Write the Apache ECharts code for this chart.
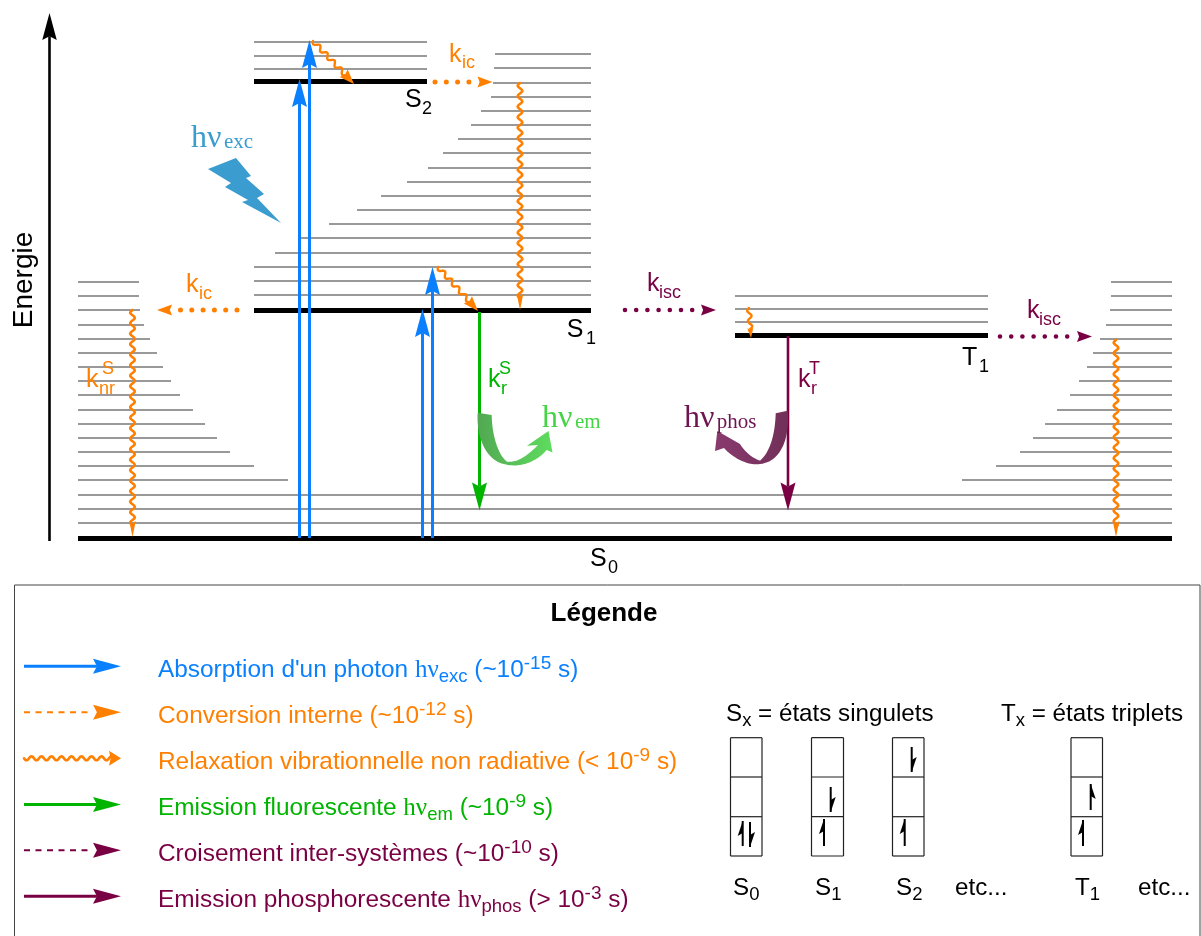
<!DOCTYPE html>
<html><head><meta charset="utf-8">
<style>html,body{margin:0;padding:0;background:#fff}#c{width:1201px;height:936px}</style>
<script src="https://cdn.jsdelivr.net/npm/echarts@6/dist/echarts.min.js"></script>
</head><body><div id="c"></div>
<script>
// ---- energy levels (axis units = reference pixels, y grows downward) ----
const s0Y = [282,296,310,325,339,353,367,381,395,410,424,438,452,466,480];
const s0LeftEnd = [139,139,140,144,150,157,163,171,180,193,205,217,230,254,288];
const s0RightStart = [1111,1111,1110,1106,1100,1093,1087,1079,1070,1057,1045,1033,1020,996,962];
const s0SharedY = [495,509,523];
const s0Ground = [78,1172,538.5];
const s1Y = [54,68,83,97,111,125,139,153,168,182,196,210,224,238,253,267,281,295];
const s1Start = [495,494,493,491,481,471,458,443,428,407,381,357,329,300,275,254,254,254];
const s1End = 591;
const s1Ground = [254,591,310.5];
const s2Y = [42,56,69];
const s2Span = [254,427];
const s2Ground = [254,427,81.5];
const t1Y = [296,309,322];
const t1Span = [735,988];
const t1Ground = [735,988,335.5];
const energyAxis = [[49.5,541,49.5,13]];
// ---- transitions [x1,y1,x2,y2] ----
const absorption = [[299.5,538,299.5,79],[309.5,538,309.5,40],[422.5,538,422.5,309],[432.5,538,432.5,267]];
const conversionOrange = [[435,82,492.5,82],[237,310,157,310]];
const crossingPurple = [[625,310,716,310],[1000,336.5,1092,336.5]];
const relaxLong = [[520,83,520,310],[132.5,310,132.5,537],[1116,340,1116,537]];
const relaxDiag = [[313,41,354,84],[438,267,478,311]];
const relaxShort = [[749,308,751,338]];
const fluorescence = [[479.5,312,479.5,510.5]];
const phosphorescence = [[788,336,788,510.5]];
// ---- legend ----
const legendY = [666.3,712.3,758.3,804.5,850.3,896.3];
const legendX = [24,121];
const legendTexts = [
 "Absorption d'un photon {nu|hν}{s|exc} (~10{sup|-15} s)",
 "Conversion interne (~10{sup|-12} s)",
 "Relaxation vibrationnelle non radiative (< 10{sup|-9} s)",
 "Emission fluorescente {nu|hν}{s|em} (~10{sup|-9} s)",
 "Croisement inter-systèmes (~10{sup|-10} s)",
 "Emission phosphorescente {nu|hν}{s|phos} (> 10{sup|-3} s)"];
const legendBaseline = [676.7,722.7,768.7,815,860.7,906.7];
const orbitalX = [[730.5,762],[811.5,843.5],[892.5,924],[1071,1102.5]];
const orbitalY = [737.7,777,816.7,856];
// spin arrows [x, tailY, tipY, barb side]
const spins = [[742.7,846,821,-1],[750,822,847,1],[824,846,819,-1],[830.7,787,812,1],[904.7,846,819,-1],[911.7,747,772,1],[1083,846,820,-1],[1090.7,810,784,1]];
// ---- texts: [text, x, baseline, style] ----
const O='#ff8000',P='#7a0044',G='#00b400',B='#0a80ff';
const pieces = [
 ['k',449,64,'kO'],['ic',462,69.5,'sO'],
 ['k',186,294,'kO'],['ic',199,300,'sO'],
 ['k',86,389,'kO'],['nr',99,395,'sO'],['S',102,375,'sO'],
 ['S',405,108.7,'kK'],['2',422,115,'sK'],
 ['S',566.7,339,'kK'],['1',586,345,'sK'],
 ['S',590,568,'kK'],['0',608,574,'sK'],
 ['T',962,367,'kK'],['1',979,373,'sK'],
 ['k',488,389,'kG'],['r',501,395,'sG'],['S',499,375,'sG'],
 ['k',647,293,'kP'],['isc',659,299,'sP'],
 ['k',1027,320,'kP'],['isc',1039,326,'sP'],
 ['k',798,389,'kP'],['r',811,395,'sP'],['T',809,375,'sP'],
 ['hν',191,145,'nuB'],['exc',224,147,'nuSB'],
 ['hν',542,425,'nuG'],['em',575,427,'nuSG'],
 ['hν',684,425,'nuP'],['phos',716.7,427,'nuSP']
];
const orbitalTexts = [
 ["S{s|x} = états singulets",726,720.7],["T{s|x} = états triplets",1001,720.7],
 ["S{s|0}",733,895],["S{s|1}",815,895],["S{s|2}",896,895],["etc...",955,895],["T{s|1}",1075,895],["etc...",1138,895]
];
// ---- filled shapes ----
const lightning = [[208,169],[236,158],[251,176],[246,178],[264,194],[257,198],[281,223],[242,202],[248,200],[225,187],[231,183]];
const emCurve = [
 ['M',477.7,412.7],['L',491.7,415],['C',492,435,498,455,507,461.7],['C',518,463,528,455,538,445],
 ['L',527,445.7],['L',548.5,431],['L',552.5,452.5],['L',546.7,450],['C',537,461,522,468,506,464.5],['C',488,462,476,440,477.7,412.7]];
const phosCurve = [
 ['M',787.7,410.7],['L',775.7,413.3],['C',775,435,770,452,760,460.7],['C',752,458,745,452,740,444],
 ['L',717.3,431],['L',715,451],['L',724,448],['C',733,458,748,466,760,464],['C',780,462,790,440,787.7,410.7]];

const FS='"Liberation Sans"',FT='"Liberation Serif"';
const TS={
 kO:[25,O,FS],sO:[18,O,FS],kK:[25,'#000',FS],sK:[18,'#000',FS],kG:[25,G,FS],sG:[18,G,FS],kP:[25,P,FS],sP:[18,P,FS],
 nuB:[32,'#3a9ccf',FT],nuSB:[21,'#3a9ccf',FT],nuG:[32,'#45d445',FT],nuSG:[21,'#45d445',FT],nuP:[32,'#6e1450',FT],nuSP:[21,'#6e1450',FT]
};

function base(name,data,render,z){return {type:'custom',name,coordinateSystem:'cartesian2d',data,silent:true,clip:false,animation:false,z:z||2,
 encode:{x:0,y:1},renderItem:render};}
function segs(name,data,color,lw){
 return base(name,data,(p,api)=>{const a=api.coord([api.value(0),api.value(1)]),b=api.coord([api.value(2),api.value(3)]);
  return {type:'line',shape:{x1:a[0],y1:a[1],x2:b[0],y2:b[1]},style:{stroke:color,lineWidth:lw,fill:null}};});
}
function head(a,b,L,W,color){
 const d=Math.hypot(b[0]-a[0],b[1]-a[1]),ux=(b[0]-a[0])/d,uy=(b[1]-a[1])/d,nx=-uy,ny=ux;
 const bx=b[0]-ux*L,by=b[1]-uy*L,mx=b[0]-ux*L*.86,my=b[1]-uy*L*.86;
 return {type:'polygon',shape:{points:[b,[bx+nx*W/2,by+ny*W/2],[mx,my],[bx-nx*W/2,by-ny*W/2]]},style:{fill:color}};
}
function arrows(name,data,o){
 return base(name,data,(p,api)=>{const a=api.coord([api.value(0),api.value(1)]),b=api.coord([api.value(2),api.value(3)]);
  const d=Math.hypot(b[0]-a[0],b[1]-a[1]),ux=(b[0]-a[0])/d,uy=(b[1]-a[1])/d,back=o.gap!=null?o.L+o.gap:o.L*.86;
  const end=[b[0]-ux*back,b[1]-uy*back];
  const st={stroke:o.color,lineWidth:o.lw,fill:null};
  if(o.dash){st.lineDash=o.dash;st.lineCap=o.cap||'butt';}
  return {type:'group',children:[{type:'line',shape:{x1:a[0],y1:a[1],x2:end[0],y2:end[1]},style:st},head(a,b,o.L,o.W,o.color)]};
 },o.z||3);
}
function waves(name,data,o){
 return base(name,data,(p,api)=>{const a=api.coord([api.value(0),api.value(1)]),b=api.coord([api.value(2),api.value(3)]);
  const d=Math.hypot(b[0]-a[0],b[1]-a[1]),ux=(b[0]-a[0])/d,uy=(b[1]-a[1])/d,nx=-uy,ny=ux,pts=[],n=d-o.L*.7,step=o.period/8;
  for(let s=0;s<=n;s+=step){const w=o.amp*Math.sin(2*Math.PI*s/o.period);pts.push([a[0]+ux*s+nx*w,a[1]+uy*s+ny*w]);}
  return {type:'group',children:[{type:'polyline',shape:{points:pts,smooth:0.5},style:{stroke:o.color,lineWidth:o.lw,fill:null,lineJoin:'round',lineCap:'round'}},head(a,b,o.L,o.W,o.color)]};
 },4);
}
function curve(path){
 const out=[];let c=null;
 path.forEach(s=>{
  if(s[0]==='M'||s[0]==='L'){c=[s[1],s[2]];out.push(c);}
  else{const p0=c;for(let i=1;i<=24;i++){const t=i/24,u=1-t;
    out.push([u*u*u*p0[0]+3*u*u*t*s[1]+3*u*t*t*s[3]+t*t*t*s[5],u*u*u*p0[1]+3*u*u*t*s[2]+3*u*t*t*s[4]+t*t*t*s[6]]);}
    c=[s[5],s[6]];}
 });
 return out;
}
function filled(name,pts,fill,z){
 return base(name,[pts[0]],(p,api)=>({type:'polygon',shape:{points:pts.map(q=>api.coord(q))},style:{fill}}),z||5);
}
function texts(name,items,build){
 return base(name,items.map(i=>[i[1],i[2]]),(p,api)=>{
  const c=api.coord([api.value(0),api.value(1)]);return build(p.dataIndex,c);
 },8);
}

// build data rows
const grayLevels=[];
s0Y.forEach((y,i)=>{grayLevels.push([s0Ground[0],y,s0LeftEnd[i],y]);grayLevels.push([s0RightStart[i],y,s0Ground[1],y]);});
s0SharedY.forEach(y=>grayLevels.push([s0Ground[0],y,s0Ground[1],y]));
s1Y.forEach((y,i)=>grayLevels.push([s1Start[i],y,s1End,y]));
s2Y.forEach(y=>grayLevels.push([s2Span[0],y,s2Span[1],y]));
t1Y.forEach(y=>grayLevels.push([t1Span[0],y,t1Span[1],y]));
const grounds=[s0Ground,s1Ground,s2Ground,t1Ground].map(g=>[g[0],g[2],g[1],g[2]]);

const orbitalSegs=[];
orbitalX.forEach(x=>{orbitalY.forEach(y=>orbitalSegs.push([x[0],y,x[1],y]));
 orbitalSegs.push([x[0],orbitalY[0],x[0],orbitalY[3]]);orbitalSegs.push([x[1],orbitalY[0],x[1],orbitalY[3]]);});
const frame=[[14.5,937,14.5,585],[14.5,585,1200,585],[1200,585,1200,937]];
const lr=i=>[[legendX[0],legendY[i],legendX[1],legendY[i]]];

const rich={
 nu:{fontFamily:FT,fontSize:25,lineHeight:32},
 sup:{fontFamily:FS,fontSize:19,lineHeight:19,verticalAlign:'top'},
 s:{fontFamily:FS,fontSize:18.5,lineHeight:19,verticalAlign:'bottom'}
};
function withColor(c){const r={};Object.keys(rich).forEach(k=>r[k]=Object.assign({},rich[k],{fill:c}));return r;}
const legendColors=[B,O,O,G,P,P];

const series=[
 segs('frame',frame,'#444',1),
 segs('levels',grayLevels,'#777',1.5),
 segs('grounds',grounds,'#000',4.8),
 filled('hv-exc bolt',lightning,'#3a9ccf'),
 filled('hv-em curve',curve(emCurve),new echarts.graphic.LinearGradient(0,0,1,0,[{offset:0,color:'#52a852'},{offset:.45,color:'#58c058'},{offset:1,color:'#5edc5e'}])),
 filled('hv-phos curve',curve(phosCurve),new echarts.graphic.LinearGradient(0,0,1,0,[{offset:0,color:'#8a3a6e'},{offset:1,color:'#703058'}])),
 arrows('energy',energyAxis,{color:'#000',lw:2.6,L:27,W:14.5}),
 arrows('absorption',absorption,{color:B,lw:3,L:28,W:15}),
 arrows('conversion',conversionOrange,{color:O,lw:5,L:15,W:11,gap:8,dash:[0,11.3],cap:'round'}),
 arrows('crossing',crossingPurple,{color:P,lw:4.6,L:15,W:11,gap:8,dash:[0,11.2],cap:'round'}),
 waves('relax long',relaxLong,{color:O,lw:2.6,amp:2.3,period:10.5,L:16,W:6.5}),
 waves('relax diag',relaxDiag,{color:O,lw:2.4,amp:2.2,period:10.5,L:15,W:11}),
 waves('relax short',relaxShort,{color:O,lw:2.4,amp:2,period:10.5,L:10,W:6}),
 arrows('fluorescence',fluorescence,{color:G,lw:3,L:28,W:15}),
 arrows('phosphorescence',phosphorescence,{color:P,lw:2.6,L:28,W:15}),
 segs('orbitals',orbitalSegs,'#222',1.2),
 base('spins',spins,(p,api)=>{
  const x=api.value(0),t=api.value(1),q=api.value(2),sd=api.value(3),dir=t>q?1:-1;
  const a=api.coord([x,t]),b=api.coord([x,q]),c=api.coord([x+sd*5,q+dir*15]),e=api.coord([x,q+dir*12]);
  return {type:'group',children:[{type:'line',shape:{x1:a[0],y1:a[1],x2:b[0],y2:b[1]},style:{stroke:'#000',lineWidth:2,fill:null}},
   {type:'polygon',shape:{points:[b,c,e]},style:{fill:'#000'}}]};
 },6),
 arrows('leg abs',lr(0),{color:B,lw:3,L:28,W:15}),
 arrows('leg conv',lr(1),{color:O,lw:2,L:28,W:15,gap:5,dash:[6,5.5]}),
 waves('leg relax',lr(2),{color:O,lw:2.6,amp:2,period:10,L:12,W:15}),
 arrows('leg fluo',lr(3),{color:G,lw:3,L:28,W:15}),
 arrows('leg cross',lr(4),{color:P,lw:2,L:28,W:15,gap:5,dash:[6,5.5]}),
 arrows('leg phos',lr(5),{color:P,lw:3,L:28,W:15}),
 texts('diagram text',pieces,(i,c)=>{const p=pieces[i],s=TS[p[3]];
  return {type:'text',x:c[0],y:c[1]-(s[2]===FT?.2:.35)*s[0],style:{text:p[0],fontSize:s[0],fontFamily:s[2],fill:s[1],align:'left',verticalAlign:'middle'}};}),
 texts('energie',[['Energie',24,280]],(i,c)=>({type:'text',x:c[0],y:c[1],rotation:Math.PI/2,style:{text:'Energie',fontSize:28,fontFamily:FS,fill:'#000',align:'center',verticalAlign:'middle'}})),
 texts('title',[['Légende',604,621]],(i,c)=>({type:'text',x:c[0],y:c[1]-7,style:{text:'Légende',fontSize:26,fontWeight:'bold',fontFamily:FS,fill:'#000',align:'center',verticalAlign:'middle'}})),
 texts('legend text',legendTexts.map((t,i)=>[t,158,legendBaseline[i]]),(i,c)=>({type:'text',x:c[0],y:c[1]-6.6,style:{text:legendTexts[i],fontSize:24.4,lineHeight:32,fontFamily:FS,fill:legendColors[i],align:'left',verticalAlign:'middle',rich:withColor(legendColors[i])}})),
 texts('orbital text',orbitalTexts,(i,c)=>({type:'text',x:c[0],y:c[1]-6.6,style:{text:orbitalTexts[i][0],fontSize:24.2,lineHeight:32,fontFamily:FS,fill:'#000',align:'left',verticalAlign:'middle',rich:withColor('#000')}}))
];
const chart=echarts.init(document.getElementById('c'),null,{renderer:'canvas'});
chart.setOption({animation:false,backgroundColor:'#fff',
 grid:{left:0,right:0,top:0,bottom:0},
 xAxis:{type:'value',min:0,max:1201,show:false},
 yAxis:{type:'value',min:0,max:936,inverse:true,show:false},
 tooltip:{show:false},series});
</script></body></html>
